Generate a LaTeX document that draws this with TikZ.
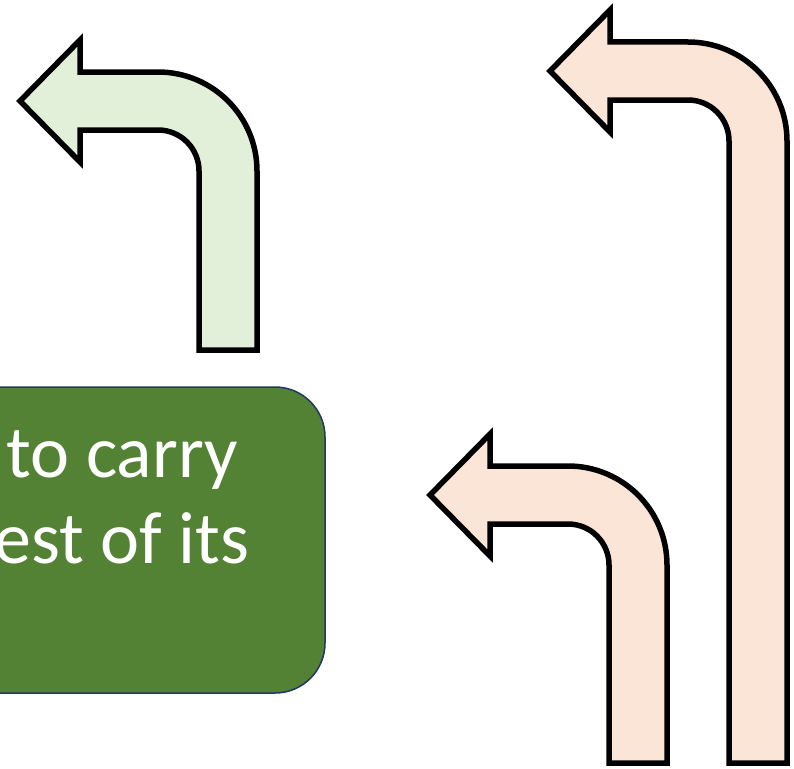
\documentclass[tikz,border=0pt]{standalone}
\usepackage{fontspec}
\setmainfont{Carlito}
\definecolor{palegreen}{HTML}{E2F0D9}
\definecolor{palepeach}{HTML}{FBE5D6}
\definecolor{notegreen}{HTML}{548235}
\definecolor{noteblue}{HTML}{1F3864}
\tikzset{
	turnarrow/.style={draw=black, line width=5.5pt, miter limit=10},
	notebox/.style={rectangle, rounded corners=50pt, fill=notegreen, draw=noteblue, line width=1.5pt, inner sep=0pt},
	notetext/.style={text=white, align=center, inner sep=0pt, font=\fontsize{74}{86}\selectfont}
}
% #1 fill, #2 x of inner edge, #3 y of top edge, #4 y of bottom
\newcommand{\turnleft}[4]{%
	\draw[turnarrow, fill=#1] (#2,#4) -- (#2,#3+99)
		arc[start angle=0, end angle=-90, radius=41]
		-- ++(-78,0) -- ++(0,32) -- ++(-60,-61) -- ++(60,-61) -- ++(0,32)
		-- ++(78,0) arc[start angle=-90, end angle=0, radius=99]
		-- (#2+58,#4) -- cycle;
}
\begin{document}
\begin{tikzpicture}[x=1pt, y=-1pt]
	\useasboundingbox (0,0) rectangle (794,768);
	\clip (0,0) rectangle (794,768);

	\turnleft{palegreen}{199}{72}{350}
	\turnleft{palepeach}{609}{466}{763}
	\turnleft{palepeach}{729}{42}{763}

	\node[notebox, minimum width=408pt, minimum height=306pt] (note) at (121,540) {};
	\node[notetext, anchor=base] (notetext) at (122,563) {to carry\\est of its};
\end{tikzpicture}
\end{document}
